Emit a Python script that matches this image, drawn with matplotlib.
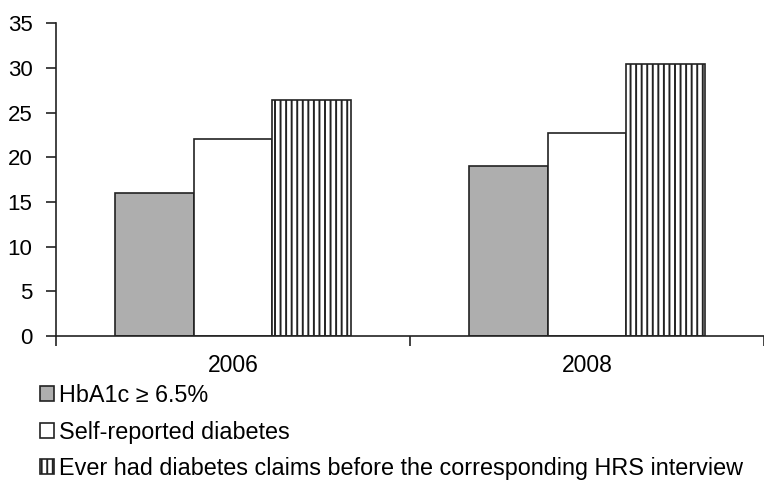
import numpy as np
import matplotlib.pyplot as plt
import matplotlib as mpl

plt.rcParams['font.family'] = ['Liberation Sans', 'DejaVu Sans']
mpl.rcParams['hatch.linewidth'] = 1.4

# data
years = ["2006", "2008"]
hba1c = [16.0, 19.0]
self_reported = [22.0, 22.7]
claims = [26.4, 30.5]
labels = ["HbA1c \u2265 6.5%",
          "Self-reported diabetes",
          "Ever had diabetes claims before the corresponding HRS interview"]

fig = plt.figure(figsize=(7.64, 4.82), dpi=100)
ax = fig.add_axes([56/764, 1 - 336/482, 1 - 56/764, (336 - 23.3)/482])

x = np.arange(len(years))
w = 0.223
b1 = ax.bar(x - w, hba1c, w, color="#aeaeae", edgecolor="#222222", linewidth=1.2, label=labels[0])
b2 = ax.bar(x, self_reported, w, color="white", edgecolor="#222222", linewidth=1.2, label=labels[1])
b3 = ax.bar(x + w, claims, w, color="white", edgecolor="#222222", linewidth=1.2,
            hatch="|||", label=labels[2])

ax.set_xlim(-0.5, 1.5)
ax.set_ylim(0, 35)
ax.set_yticks(range(0, 36, 5))
ax.set_xticks([-0.5, 0.5, 1.5])
ax.set_xticklabels([])
ax.set_xticks(x, minor=True)
ax.set_xticklabels(years, minor=True)
ax.tick_params(axis="x", which="minor", length=0, labelsize=16.5, pad=13)
ax.tick_params(axis="x", which="major", length=7, width=1.2, color="#222222")
ax.tick_params(axis="y", length=7, width=1.2, labelsize=16, pad=10, color="#222222")
for s in ["top", "right"]:
    ax.spines[s].set_visible(False)
for s in ["left", "bottom"]:
    ax.spines[s].set_color("#222222")
    ax.spines[s].set_linewidth(1.2)

fig.legend(handles=[b1, b2, b3], loc="upper left", bbox_to_anchor=(40/764, 1 - 384/482),
           frameon=False, fontsize=16.8, handlelength=0.6, handleheight=0.6,
           handletextpad=0.2, labelspacing=0.58, borderaxespad=0, borderpad=0)

plt.savefig("out.png", dpi=100)
